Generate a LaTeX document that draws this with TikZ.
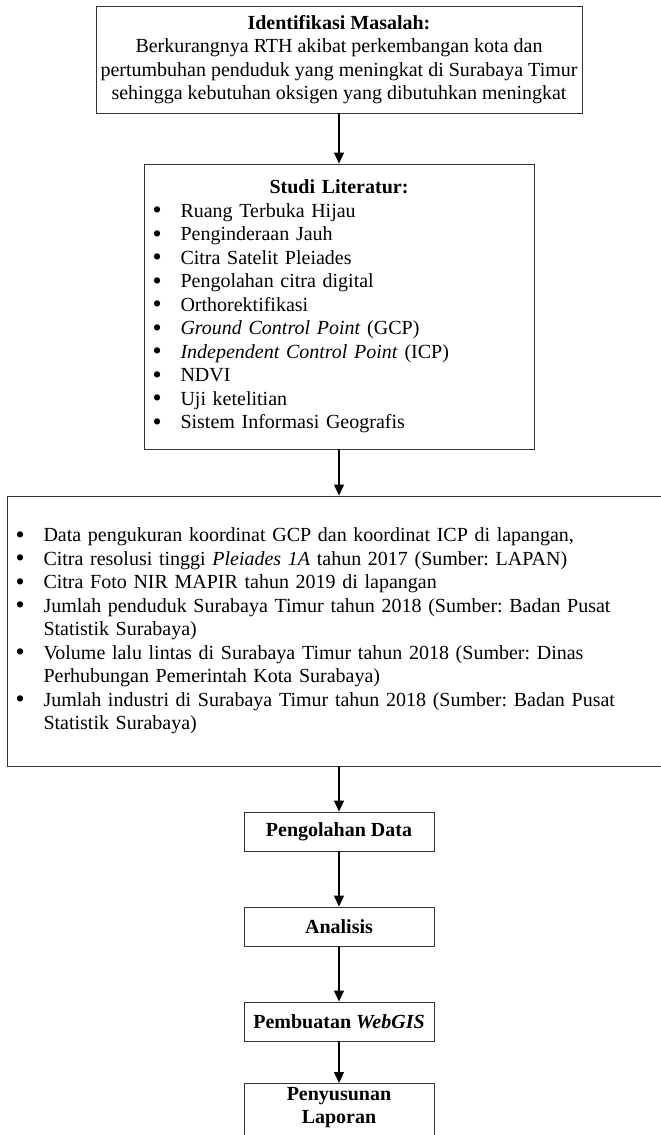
\documentclass[tikz,border=0pt]{standalone}
\usepackage{fontspec}
\setmainfont{Liberation Serif}
\usepackage{graphicx}
\usetikzlibrary{arrows.meta}
\frenchspacing
\newcommand{\fsz}{\fontsize{20}{23.5}\selectfont}
\newcommand{\litem}{\hspace*{8.5pt}\makebox[28pt][l]{\smash{\raisebox{-1.6pt}{\scalebox{1.3}{\textbullet}}}}}
\newcommand{\lcont}{\hspace*{36.5pt}}
\tikzset{
  x=1pt, y=1pt,
  every node/.style={font=\fsz},
  box/.style={draw=black!80, line width=0.9pt, inner sep=0pt},
  smallbox/.style={box, minimum width=190pt, minimum height=39pt, align=center, font=\fsz\bfseries},
  flow/.style={line width=1.2pt, -{Triangle[length=11pt,width=10pt]}}
}
\begin{document}
\begin{tikzpicture}
\useasboundingbox (0,0) rectangle (661,-1135);
\clip (0,0) rectangle (661,-1135);
\fill[white] (0,0) rectangle (661,-1135);

\node[box, minimum width=486pt, minimum height=107pt, align=center] (b1) at (339,-59.5)
  {\textbf{Identifikasi Masalah:}\\
   Berkurangnya RTH akibat perkembangan kota dan\\
   pertumbuhan penduduk yang meningkat di Surabaya Timur\\
   sehingga kebutuhan oksigen yang dibutuhkan meningkat};

\node[box, text width=390pt, minimum height=285pt, align=left] (b2) at (339,-306.5)
  {\makebox[390pt]{\textbf{Studi Literatur:}}\\
   \litem Ruang Terbuka Hijau\\
   \litem Penginderaan Jauh\\
   \litem Citra Satelit Pleiades\\
   \litem Pengolahan citra digital\\
   \litem Orthorektifikasi\\
   \litem \textit{Ground Control Point} (GCP)\\
   \litem \textit{Independent Control Point} (ICP)\\
   \litem NDVI\\
   \litem Uji ketelitian\\
   \litem Sistem Informasi Geografis};

\node[box, text width=673pt, minimum height=270pt, align=left] (b3) at (343.5,-631)
  {\litem Data pengukuran koordinat GCP dan koordinat ICP di lapangan,\\
   \litem Citra resolusi tinggi \textit{Pleiades 1A} tahun 2017 (Sumber: LAPAN)\\
   \litem Citra Foto NIR MAPIR tahun 2019 di lapangan\\
   \litem Jumlah penduduk Surabaya Timur tahun 2018 (Sumber: Badan Pusat\\
   \lcont Statistik Surabaya)\\
   \litem Volume lalu lintas di Surabaya Timur tahun 2018 (Sumber: Dinas\\
   \lcont Perhubungan Pemerintah Kota Surabaya)\\
   \litem Jumlah industri di Surabaya Timur tahun 2018 (Sumber: Badan Pusat\\
   \lcont Statistik Surabaya)};

\node[smallbox] (s1) at (339,-831.5) {Pengolahan Data};
\node[smallbox] (s2) at (339,-926.5) {Analisis};
\node[smallbox] (s3) at (339,-1021.5) {Pembuatan \textit{WebGIS}};
\node[smallbox, anchor=north, inner ysep=2pt, minimum height=70pt,
      font=\fontsize{20}{22.5}\selectfont\bfseries, text height=14pt] (s4) at (339,-1083)
  {Penyusunan\\Laporan};

\draw[flow] (b1.south) -- (b2.north);
\draw[flow] (b2.south) -- (b2.south |- b3.north);
\draw[flow] (b3.south -| s1.north) -- (s1.north);
\draw[flow] (s1.south) -- (s2.north);
\draw[flow] (s2.south) -- (s3.north);
\draw[flow] (s3.south) -- (s4.north);
\end{tikzpicture}
\end{document}
